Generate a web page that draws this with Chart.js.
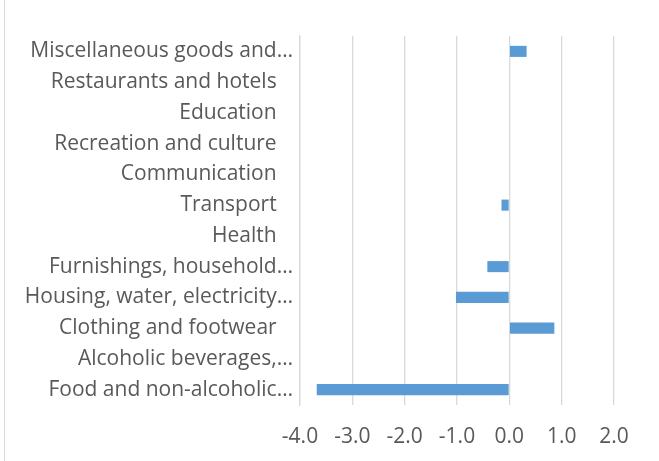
<!DOCTYPE html>
<html>
<head>
<meta charset="utf-8">
<script src="https://cdn.jsdelivr.net/npm/chart.js@4/dist/chart.umd.min.js"></script>
<style>
  body { margin: 0; background: #fff; }
  #wrap { position: relative; width: 659px; height: 461px; }
  #frame { position: absolute; left: 4px; top: 0; width: 0; height: 461px; border-left: 1px solid #d9d9d9; }
</style>
</head>
<body>
<div id="wrap">
  <div id="frame"></div>
  <canvas id="chart" width="659" height="461"></canvas>
</div>
<script>
let categories = [
    "Miscellaneous goods and\u2026",
    "Restaurants and hotels   ",
    "Education   ",
    "Recreation and culture   ",
    "Communication   ",
    "Transport   ",
    "Health   ",
    "Furnishings, household\u2026",
    "Housing, water, electricity\u2026",
    "Clothing and footwear   ",
    "Alcoholic beverages,\u2026",
    "Food and non-alcoholic\u2026"
];
let values = [0.33, 0, 0, 0, 0, -0.15, 0, -0.42, -1.02, 0.86, 0, -3.68];
let xTicks = [-4, -3, -2, -1, 0, 1, 2];

let labelColor = "#595959";
let gridColor = "#d9d9d9";
let labelFont = { family: "'Open Sans', sans-serif", size: 21 };
let tickFont = { family: "'Open Sans', sans-serif", size: 21 };

const data = {
    labels: categories,
    datasets: [{
        data: values,
        backgroundColor: "#5b9bd5",
        borderWidth: 0,
        categoryPercentage: 1,
        barPercentage: 0.36
    }]
};

const config = {
    type: "bar",
    data: data,
    options: {
        indexAxis: "y",
        responsive: false,
        animation: false,
        layout: { padding: { left: 0, right: 45, top: 36, bottom: 0 } },
        plugins: {
            legend: { display: false },
            tooltip: { enabled: false }
        },
        scales: {
            x: {
                min: xTicks[0],
                max: xTicks[xTicks.length - 1],
                afterBuildTicks: function(scale) {
                    scale.ticks = xTicks.map(v => ({ value: v }));
                },
                afterFit: function(scale) { scale.height = 56; },
                ticks: {
                    color: labelColor,
                    font: tickFont,
                    padding: 19,
                    callback: v => v.toFixed(1)
                },
                grid: { color: gridColor, lineWidth: 1.3, drawTicks: false },
                border: { display: false }
            },
            y: {
                afterFit: function(scale) { scale.width = 300; },
                ticks: { color: labelColor, font: labelFont, padding: 7, autoSkip: false },
                grid: { display: false, drawTicks: false },
                border: { color: gridColor, width: 1.3 }
            }
        }
    }
};

new Chart(document.getElementById("chart"), config);
</script>
</body>
</html>
